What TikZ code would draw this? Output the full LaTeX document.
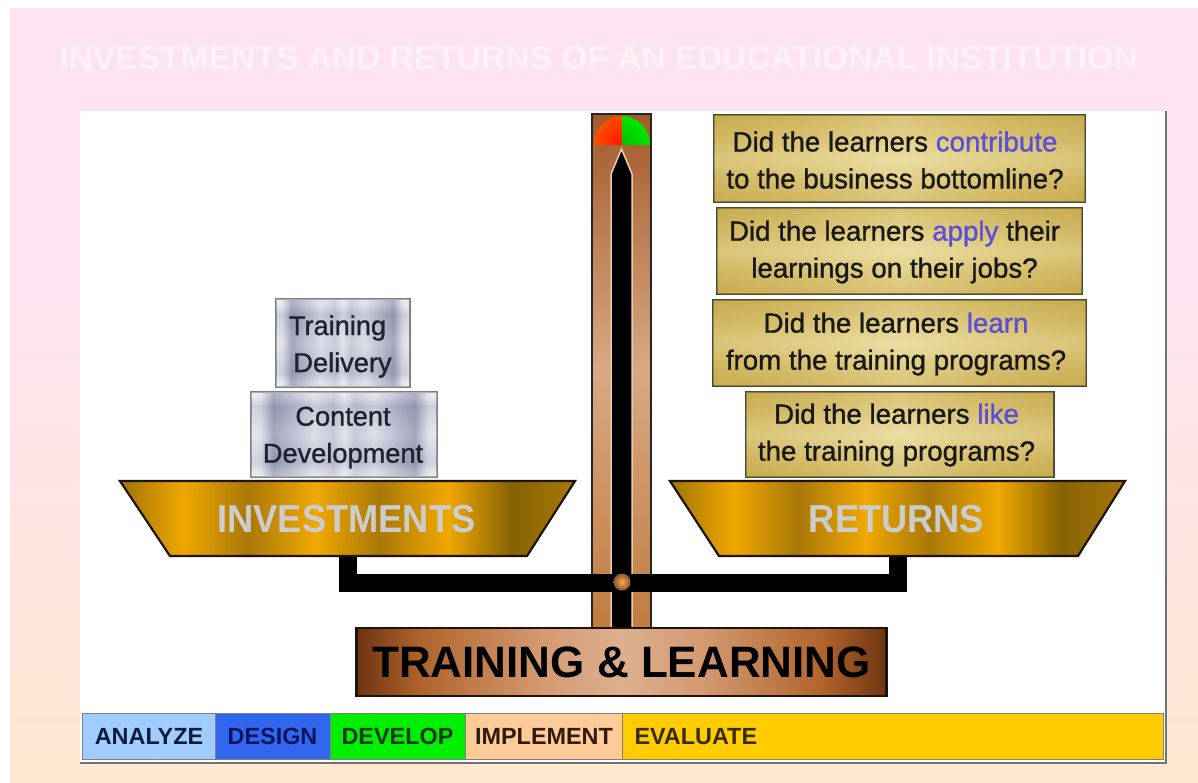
\documentclass[tikz,border=0pt]{standalone}
\usepackage{fontspec}
\setmainfont{Liberation Sans}
\newfontfamily\semib[FakeBold=1.1]{Liberation Sans}
\usetikzlibrary{calc}
\definecolor{bgtop}{HTML}{FDE4F0}
\definecolor{bgbot}{HTML}{FDE8D0}
\definecolor{qblue}{HTML}{5A50D8}
\definecolor{gA}{HTML}{A07204}
\definecolor{gB}{HTML}{A87808}
\definecolor{gC}{HTML}{F0A800}
\definecolor{gD}{HTML}{866204}
\definecolor{cA}{HTML}{6E3410}
\definecolor{cB}{HTML}{B0642C}
\definecolor{cC}{HTML}{D49A70}
\definecolor{cD}{HTML}{DDB090}
\definecolor{kT}{HTML}{A25A2A}
\definecolor{kM}{HTML}{D8A882}
\definecolor{kB}{HTML}{C07C40}
\definecolor{sA}{HTML}{EEEFF3}
\definecolor{sB}{HTML}{E4E5EC}
\definecolor{sC}{HTML}{8286A4}
\definecolor{sG}{HTML}{A6AABF}
\definecolor{sD}{HTML}{DDDFE8}
\definecolor{sE}{HTML}{BCC0D2}
\definecolor{sF}{HTML}{E6E8F0}
\definecolor{tA}{HTML}{C8AC50}
\definecolor{tB}{HTML}{D8C070}
\definecolor{tC}{HTML}{ECDFA4}
\definecolor{st1}{HTML}{A0CCFF}
\definecolor{st2}{HTML}{3366EE}
\definecolor{st3}{HTML}{00EE00}
\definecolor{st4}{HTML}{FFCC99}
\definecolor{st5}{HTML}{FFCC00}
\definecolor{txN}{HTML}{0E1C3C}
\definecolor{txD}{HTML}{0A1460}
\definecolor{txG}{HTML}{0A3A14}
\definecolor{txB}{HTML}{2E1C10}
\definecolor{txE}{HTML}{3A2C00}
\definecolor{txS}{HTML}{20222E}
\pgfdeclarehorizontalshading{goldbar}{100bp}{
 color(0bp)=(gA);color(25bp)=(gA);color(32bp)=(gC);color(39bp)=(gB);color(46.5bp)=(gC);color(53.5bp)=(gB);color(61bp)=(gC);color(68bp)=(gD);color(75bp)=(gB);color(100bp)=(gB)}
\pgfdeclarehorizontalshading{copperbar}{100bp}{
 color(0bp)=(cA);color(25bp)=(cA);color(31bp)=(cB);color(42.5bp)=(cC);color(50bp)=(cD);color(57.5bp)=(cC);color(69bp)=(cB);color(75bp)=(cA);color(100bp)=(cA)}
\pgfdeclarehorizontalshading{silverbar}{100bp}{
 color(0bp)=(sA);color(25bp)=(sA);color(27.5bp)=(sB);color(31bp)=(sC);color(42bp)=(sD);color(47bp)=(sE);color(50bp)=(sF);color(53bp)=(sE);color(58bp)=(sD);color(69bp)=(sC);color(72.5bp)=(sB);color(75bp)=(sA);color(100bp)=(sA)}
\pgfdeclareverticalshading{silverup}{100bp}{
 color(0bp)=(sA);color(25bp)=(sA);color(28bp)=(sB);color(33bp)=(sG);color(50bp)=(sD);color(67bp)=(sG);color(72bp)=(sB);color(75bp)=(sA);color(100bp)=(sA)}
\pgfdeclarehorizontalshading{tanbar}{100bp}{
 color(0bp)=(tA);color(25bp)=(tA);color(37bp)=(tB);color(50bp)=(tC);color(63bp)=(tB);color(75bp)=(tA);color(100bp)=(tA)}
\pgfdeclareverticalshading{tanup}{100bp}{
 color(0bp)=(tA);color(25bp)=(tA);color(37bp)=(tB);color(50bp)=(tC);color(63bp)=(tB);color(75bp)=(tA);color(100bp)=(tA)}
\newcommand{\qplaid}[1]{\shade[shading=tanup,opacity=.5] ([shift={(1.5,-1.5)}]#1.south west) rectangle ([shift={(-1.5,1.5)}]#1.north east);}
\newcommand{\splaid}[1]{\shade[shading=silverup,opacity=.4] ([shift={(1.5,-1.5)}]#1.south west) rectangle ([shift={(-1.5,1.5)}]#1.north east);}
\tikzset{
 x=1pt,y=-1pt,
 txt/.style={font=\fontsize{#1}{#1}\selectfont\bfseries,inner sep=0pt,align=center},
 qbox/.style={shading=tanbar,draw=black!60!olive,line width=2pt,inner sep=0pt},
 qtext/.style={inner sep=0pt,align=center,font=\fontsize{27.7}{37}\semib,text=black!90},
 sbox/.style={shading=silverbar,draw=black!50,line width=2pt,inner sep=0pt},
 stext/.style={inner sep=0pt,align=center,font=\fontsize{27.2}{37}\semib,text=txS},
 stage/.style={draw=black!50,line width=1pt,inner sep=0pt,font=\fontsize{23.4}{23.4}\selectfont\bfseries},
 pan/.style={shading=goldbar,draw=black!85!brown,line width=2.2pt,line join=miter},
 beam/.style={fill=black},
}
\begin{document}
\begin{tikzpicture}
\useasboundingbox (0,0) rectangle (1198,783);
\fill[white] (0,0) rectangle (1198,783);
% background
\fill[bgtop] (10,8) rectangle (1198,300);
\shade[top color=bgtop,bottom color=bgbot] (10,300) rectangle (1198,783);
\node[txt=33.6,text=white,opacity=.55] (title) at (598.5,58) {INVESTMENTS AND RETURNS OF AN EDUCATIONAL INSTITUTION};
% panel
\fill[white] (80,111) rectangle (1166,763);
\draw[black!55,line width=2pt] (1166,111) -- (1166,763) -- (80,763);
% column
\shade[top color=kT,bottom color=kB,middle color=kM] (592,114) rectangle (651,628);
\draw[black!85,line width=2.4pt] (592,114) rectangle (651,628);
% indicator
\begin{scope}
\clip (593,115) rectangle (622,145);
\shade[inner color=red!85!orange,outer color=orange!60!red] (622,145) ellipse (28 and 29);
\end{scope}
\begin{scope}
\clip (622,115) rectangle (650,145);
\shade[inner color=green!75!black,outer color=green!90!black] (622,145) ellipse (28 and 29);
\end{scope}
% needle
\fill[black,draw=white!60!brown,line width=1.5pt] (611,628) -- (611,174) -- (621.5,149) -- (632,174) -- (632,628) -- cycle;
% beam
\fill[beam] (339,574) rectangle (907,592);
\fill[beam] (339,556) rectangle (357,592);
\fill[beam] (889,556) rectangle (907,592);
\shade[inner color=orange!70!white,outer color=brown!70!black] (622,582) circle (8.5);
% base
\node[shading=copperbar,draw=black!85!brown,line width=2.4pt,minimum width=530,minimum height=68,inner sep=0pt,
  font=\fontsize{44}{44}\selectfont\bfseries,text=black] (base) at (621.5,662) {TRAINING \& LEARNING};
% pans
\draw[pan] (120,481) -- (575,481) -- (527,556) -- (170,556) -- cycle;
\draw[pan] (670,481) -- (1125,481) -- (1078,556) -- (719,556) -- cycle;
\node[txt=39,text=black!20,xscale=.93,transform shape] (inv) at (346.5,519) {INVESTMENTS};
\node[txt=39,text=black!20,xscale=.93,transform shape] (ret) at (896.5,519) {RETURNS};
% left stack
\node[sbox,minimum width=134,minimum height=87] (deliv) at (342.5,343) {};
\node[sbox,minimum width=186,minimum height=85] (cont) at (344,434) {};
\splaid{deliv}\splaid{cont}
\node[stext] (delivt) at (337.5,346.5) {Training\\\hspace{10pt}Delivery};
\node[stext] (contt) at (343,437.5) {Content\\Development};
% right stack
\node[qbox,minimum width=371,minimum height=87] (q1) at (899.5,159) {};
\node[qbox,minimum width=365,minimum height=86] (q2) at (899.5,251) {};
\node[qbox,minimum width=373,minimum height=86] (q3) at (899.5,343) {};
\node[qbox,minimum width=308,minimum height=85] (q4) at (899.5,434) {};
\qplaid{q1}\qplaid{q2}\qplaid{q3}\qplaid{q4}
\node[qtext] (q1t) at (895,160) {Did the learners \textcolor{qblue}{contribute}\\to the business bottomline?};
\node[qtext] (q2t) at (894.5,252) {Did the learners \textcolor{qblue}{apply} their\\learnings on their jobs?};
\node[qtext] (q3t) at (896,344) {Did the learners \textcolor{qblue}{learn}\\from the training programs?};
\node[qtext] (q4t) at (896.5,435) {Did the learners \textcolor{qblue}{like}\\the training programs?};
% stages
\node[stage,fill=st1,text=txN,minimum width=133,minimum height=46] (s1) at (149,736) {ANALYZE};
\node[stage,fill=st2,text=txD,minimum width=115,minimum height=46] (s2) at (272.5,736) {DESIGN};
\node[stage,fill=st3,text=txG,minimum width=135,minimum height=46] (s3) at (397.5,736) {DEVELOP};
\node[stage,fill=st4,text=txB,minimum width=158,minimum height=46] (s4) at (544,736) {IMPLEMENT};
\node[stage,fill=st5,minimum width=541,minimum height=46] (s5) at (892.5,736) {};
\node[stage,draw=none,text=txE,anchor=west] (s5t) at (634,736.5) {EVALUATE};
\end{tikzpicture}
\end{document}
